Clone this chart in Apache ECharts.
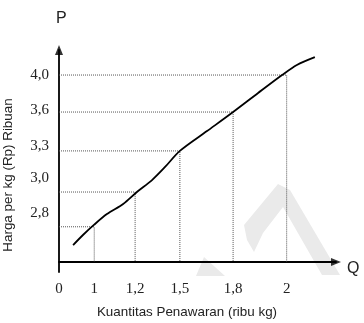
<!DOCTYPE html>
<html>
<head>
<meta charset="utf-8">
<script src="https://cdn.jsdelivr.net/npm/echarts@6/dist/echarts.min.js"></script>
<style>
  html, body { margin: 0; padding: 0; background: #fff; }
  #chart { width: 364px; height: 323px; }
</style>
</head>
<body>
<div id="chart"></div>
<script>
// the drawing is schematic (not to scale), so axes are in drawing units
// and the printed numbers are put on by label
var qLabels = ["0", "1", "1,2", "1,5", "1,8", "2"];
var qPos = [0, 1.0, 2.16, 3.43, 4.94, 6.46];

var pLabels = ["2,8", "3,0", "3,3", "3,6", "4,0"];
var pLabelPos = [1.31, 2.25, 3.10, 4.06, 5.0];
var pLinePos = [0.94, 1.87, 2.97, 4.01, 5.0];

// supply curve
var curveX = [0.40, 0.68, 0.99, 1.36, 1.82, 2.21, 2.64, 3.01, 3.43, 4.20, 4.94, 5.65, 6.33, 6.75, 7.26];
var curveY = [0.45, 0.72, 0.99, 1.28, 1.55, 1.87, 2.19, 2.54, 2.97, 3.50, 4.01, 4.52, 5.00, 5.27, 5.48];

var xMax = 7.86;
var yMin = -0.27;
var yMax = 5.67;

var chart = echarts.init(document.getElementById("chart"));

var curve = curveX.map(function (x, i) { return [x, curveY[i]]; });

// dotted guide lines: from P axis across, then down to Q axis
var guides = pLinePos.map(function (p, i) {
  var q = qPos[i + 1];
  return {
    type: "line",
    data: [[0, p], [q, p], [q, 0]],
    showSymbol: false,
    silent: true,
    z: 1,
    lineStyle: { color: "#555", width: 1, type: [1, 1] }
  };
});

var axisStyle = { color: "#000", width: 1.8 };

var option = {
  animation: false,
  grid: { left: 59, top: 50, width: 277, height: 222 },
  xAxis: {
    type: "value",
    min: 0,
    max: xMax,
    splitLine: { show: false },
    axisTick: { show: false },
    axisLine: { onZero: true, lineStyle: axisStyle },
    axisLabel: {
      customValues: qPos,
      margin: 10,
      fontFamily: "Liberation Serif",
      fontSize: 15,
      color: "#222",
      formatter: function (v) {
        var i = qPos.indexOf(v);
        return i >= 0 ? qLabels[i] : "";
      }
    }
  },
  yAxis: {
    type: "value",
    min: yMin,
    max: yMax,
    splitLine: { show: false },
    axisTick: { show: false },
    axisLine: { onZero: false, lineStyle: axisStyle },
    axisLabel: {
      customValues: pLabelPos,
      margin: 10,
      fontFamily: "Liberation Serif",
      fontSize: 15,
      color: "#222",
      formatter: function (v) {
        var i = pLabelPos.indexOf(v);
        return i >= 0 ? pLabels[i] : "";
      }
    }
  },
  graphic: [
    // faint watermark in the background
    {
      type: "polygon",
      z: -1,
      shape: { points: [[278, 184], [290, 190], [340, 275], [322, 275], [283, 207], [263, 233], [254, 252], [247, 240], [244, 225]] },
      style: { fill: "#eaeaea" }
    },
    {
      type: "polygon",
      z: -1,
      shape: { points: [[204, 257], [225, 276], [196, 276]] },
      style: { fill: "#eaeaea" }
    },
    {
      type: "text", left: 56, top: 11,
      style: { text: "P", font: "16px 'Liberation Sans'", fill: "#222" }
    },
    {
      type: "text", left: 347, top: 261,
      style: { text: "Q", font: "16px 'Liberation Sans'", fill: "#222" }
    },
    {
      type: "text", x: 187, y: 312,
      style: { text: "Kuantitas Penawaran (ribu kg)", font: "13.4px 'Liberation Sans'", fill: "#222", align: "center", verticalAlign: "middle" }
    },
    {
      type: "text", x: 8, y: 175, rotation: Math.PI / 2,
      style: { text: "Harga per kg (Rp) Ribuan", font: "13.4px 'Liberation Sans'", fill: "#222", align: "center", verticalAlign: "middle" }
    }
  ],
  series: guides.concat([
    {
      type: "line",
      data: curve,
      smooth: 0.3,
      showSymbol: false,
      z: 3,
      lineStyle: { color: "#000", width: 1.8 }
    },
    // arrow heads at the ends of the two axes
    {
      type: "scatter",
      clip: false,
      silent: true,
      symbol: "triangle",
      symbolSize: [8, 10],
      itemStyle: { color: "#000" },
      data: [
        { value: [xMax, 0], symbolRotate: -90 },
        { value: [0, yMax], symbolRotate: 0 }
      ]
    }
  ])
};

chart.setOption(option);
</script>
</body>
</html>
